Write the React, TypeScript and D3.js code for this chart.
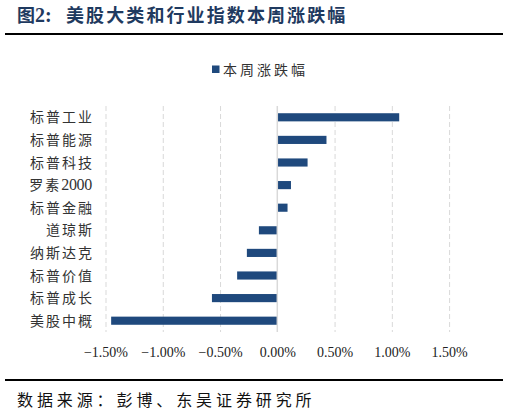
import React, { useEffect, useRef } from "react";
import * as d3 from "d3";

const categories = ["标普工业", "标普能源", "标普科技", "罗素2000", "标普金融", "道琼斯", "纳斯达克", "标普价值", "标普成长", "美股中概"];
const values = [1.06, 0.425, 0.26, 0.115, 0.085, -0.165, -0.27, -0.355, -0.575, -1.455];
const xTicks = [-1.5, -1.0, -0.5, 0, 0.5, 1.0, 1.5];
const seriesName = "本周涨跌幅";
const titleText = "美股大类和行业指数本周涨跌幅";
const sourceText = "数据来源：彭博、东吴证券研究所";

const W = 509;
const H = 414;
const CJK = "'Noto Sans CJK SC', sans-serif";
const SERIF = "'Liberation Serif', 'Times New Roman', 'DejaVu Serif', serif";
const BAR = "#1F497D";
const TITLE = "#1F3A60";

export default function App() {
  const ref = useRef<SVGSVGElement>(null);

  useEffect(() => {
    const svg = d3.select(ref.current);
    svg.selectAll("*").remove();

    // Title
    const t = svg.append("text").attr("y", 22).attr("fill", TITLE).attr("font-weight", "bold");
    t.append("tspan").attr("x", 17).style("font-family", CJK).attr("font-size", 18).text("图");
    t.append("tspan").style("font-family", SERIF).attr("font-size", 20).text("2:");
    t.append("tspan").attr("x", 66).style("font-family", CJK).attr("font-size", 18).attr("letter-spacing", 2.1).text(titleText);

    svg.append("line").attr("x1", 5).attr("x2", 503).attr("y1", 34).attr("y2", 34).attr("stroke", "#000").attr("stroke-width", 2);
    svg.append("line").attr("x1", 5).attr("x2", 503).attr("y1", 380).attr("y2", 380).attr("stroke", "#000").attr("stroke-width", 2);

    svg.append("text").attr("x", 17).attr("y", 406).style("font-family", CJK).attr("font-size", 16)
      .attr("letter-spacing", 3.9).attr("fill", "#111").text(sourceText);

    // Legend
    svg.append("rect").attr("x", 212).attr("y", 65.5).attr("width", 7.5).attr("height", 7.5).attr("fill", BAR);
    svg.append("text").attr("x", 223).attr("y", 75).style("font-family", CJK).attr("font-size", 14)
      .attr("letter-spacing", 3).attr("fill", "#333").text(seriesName);

    const x = d3.scaleLinear().domain([-1.5, 1.5]).range([106, 449.6]);
    const y = d3.scaleBand<string>().domain(categories).range([106, 332]).paddingInner(0.64).paddingOuter(0.32);

    // grid
    svg.append("g").selectAll("line").data(xTicks.filter(v => v !== 0)).join("line")
      .attr("x1", d => x(d)).attr("x2", d => x(d)).attr("y1", 106).attr("y2", 332)
      .attr("stroke", "#D9D9D9").attr("stroke-width", 1).attr("stroke-dasharray", "5,3");

    // bars
    svg.append("g").selectAll("rect").data(values).join("rect")
      .attr("x", d => Math.min(x(0), x(d)))
      .attr("width", d => Math.abs(x(d) - x(0)))
      .attr("y", (d, i) => y(categories[i])!)
      .attr("height", y.bandwidth())
      .attr("fill", BAR);

    // zero axis
    svg.append("line").attr("x1", x(0) - 0.5).attr("x2", x(0) - 0.5).attr("y1", 106).attr("y2", 332)
      .attr("stroke", "#D9D9D9").attr("stroke-width", 1.5);

    // category labels
    const lab = svg.append("g").selectAll("text").data(categories).join("text")
      .attr("x", 92).attr("y", d => y(d)! + y.bandwidth() / 2 + 5)
      .attr("text-anchor", "end").attr("font-size", 14).attr("fill", "#333");
    lab.each(function (d) {
      const el = d3.select(this);
      const m = d.match(/^(.*?)(\d+)$/);
      if (m) {
        el.append("tspan").style("font-family", CJK).attr("letter-spacing", 2).text(m[1]);
        el.append("tspan").style("font-family", SERIF).attr("font-size", 16).attr("letter-spacing", -0.3).text(m[2]);
      } else {
        el.style("font-family", CJK).attr("letter-spacing", 2).attr("dx", 2).text(d);
      }
    });

    // x tick labels
    svg.append("g").selectAll("text").data(xTicks).join("text")
      .attr("x", d => x(d)).attr("y", 357).attr("text-anchor", "middle")
      .style("font-family", SERIF).attr("font-size", 14).attr("fill", "#222")
      .text(d => d3.format(".2f")(d) + "%");
  }, []);

  return (
    <div style={{ position: "fixed", left: 0, top: 0, width: W, height: H, background: "#fff" }}>
      <svg ref={ref} width={W} height={H} />
    </div>
  );
}
